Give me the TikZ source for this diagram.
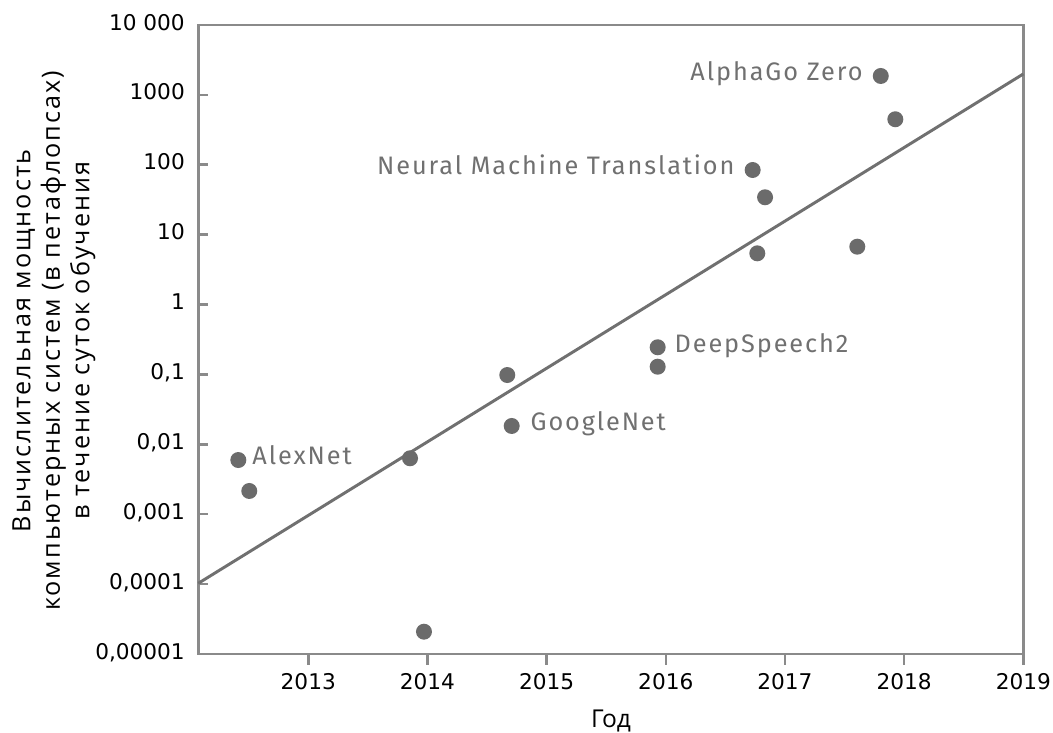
\documentclass[tikz,border=0pt]{standalone}
\usepackage{fontspec}
\setmainfont{Open Sans}
\newfontfamily\titlefont[LetterSpace=8]{Open Sans}
\newfontfamily\tickfont{DejaVu Sans}
\newfontfamily\labfont[LetterSpace=7.5]{Fira Sans}
\usepackage{tikz}
\usetikzlibrary{positioning}
\definecolor{dotc}{HTML}{6B6B6B}
\definecolor{linec}{HTML}{707070}
\definecolor{framec}{HTML}{8A8A8A}
\tikzset{
  dot/.style={circle,fill=dotc,minimum size=4mm,inner sep=0pt},
  lbl/.style={font=\labfont\fontsize{18}{20}\selectfont,text=linec,inner sep=0pt,text height=0.7em,text depth=0pt},
  ytl/.style={anchor=east,inner sep=0pt,text height=0.73em,text depth=0pt,font=\tickfont\fontsize{15.4}{17}\selectfont},
  xtl/.style={anchor=base,inner sep=0pt,font=\tickfont\fontsize{15.4}{17}\selectfont},
  frm/.style={draw=framec,line width=1.8pt},
  fitln/.style={linec,line width=2.1pt}
}
\begin{document}
\begin{tikzpicture}
\useasboundingbox (0,0) rectangle (26.325,18.3);
% axis titles
\node[rotate=90,align=center,font=\titlefont\fontsize{17.9}{21}\selectfont] (ytitle) at (1.35,9.78)
  {Вычислительная мощность\\компьютерных систем (в петафлопсах)\\в течение суток обучения};
\node[anchor=base,font=\fontsize{17.5}{20}\selectfont] (xtitle) at (15.275,0.125) {Год};
\begin{scope}[shift={(4.7275,1.95)},x=2.97925cm,y=1.7475cm]
 \coordinate (bl) at (0.077,0);
 \coordinate (tr) at (7,9);
 \draw[frm] (bl) rectangle (tr);
 % ticks
 \foreach \k/\t in {0/{0,00001},1/{0,0001},2/{0,001},3/{0,01},4/{0,1},5/1,6/10,7/100,8/1000,9/{10 000}}{
  \ifnum\k>0 \ifnum\k<9 \draw[frm] (0.077,\k) -- ++(0.25cm,0); \fi\fi
  \node[ytl] (yl\k) at ([xshift=-0.33cm]0.077,\k) {\t};}
 \foreach \k in {1,...,7}{
  \draw[frm] (\k,0) -- ++(0,-0.28cm);
  \node[xtl] (xl\k) at (\k,-0.515) {\the\numexpr2012+\k\relax};}
 % trend
 \coordinate (fitA) at (0.077,1.011);
 \coordinate (fitB) at (7,8.298);
 \draw[fitln] (fitA) -- (fitB);
 % systems
 \node[dot] (alexnet) at (0.413,2.775) {};
 \node[dot] (alexnetb) at (0.505,2.332) {};
 \node[dot] (p13) at (1.854,2.800) {};
 \node[dot] (p14) at (1.971,0.319) {};
 \node[dot] (p14b) at (2.670,3.991) {};
 \node[dot] (googlenet) at (2.707,3.262) {};
 \node[dot] (deepspeech) at (3.932,4.388) {};
 \node[dot] (deepspeechb) at (3.932,4.110) {};
 \node[dot] (nmt) at (4.729,6.924) {};
 \node[dot] (p16b) at (4.833,6.534) {};
 \node[dot] (p16c) at (4.768,5.732) {};
 \node[dot] (p17) at (5.607,5.827) {};
 \node[dot] (alphago) at (5.804,8.269) {};
 \node[dot] (p17b) at (5.926,7.650) {};
 \node[lbl,right=1.4mm of alexnet] (alexnetl) {AlexNet};
 \node[lbl,right=2.6mm of googlenet] (googlenetl) {GoogleNet};
 \node[lbl,right=2.1mm of deepspeech] (deepspeechl) {DeepSpeech2};
 \node[lbl,left=2.4mm of nmt] (nmtl) {Neural Machine Translation};
 \node[lbl,left=2.4mm of alphago] (alphagol) {AlphaGo Zero};
\end{scope}
\end{tikzpicture}
\end{document}
